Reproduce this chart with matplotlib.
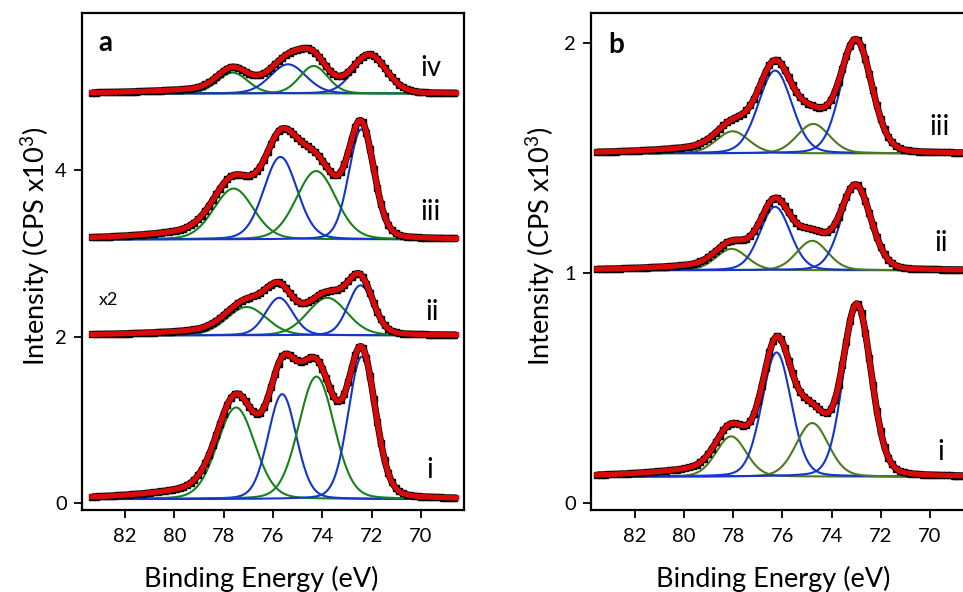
import numpy as np
import matplotlib.pyplot as plt

plt.rcParams['font.family'] = ['Lato', 'DejaVu Sans']
plt.rcParams['mathtext.fontset'] = 'custom'
plt.rcParams['mathtext.rm'] = 'Lato'

# fitted components, high BE -> low BE: green, blue, green, blue
# centre (eV), height above offset, fwhm (eV)
a_i_centre = [77.50, 75.63, 74.24, 72.40]
a_i_height = [1.10, 1.26, 1.47, 1.71]
a_i_fwhm = [1.8, 1.35, 1.7, 1.3]

a_ii_centre = [77.07, 75.75, 73.80, 72.45]
a_ii_height = [0.34, 0.45, 0.45, 0.60]
a_ii_fwhm = [1.9, 1.3, 1.9, 1.2]

a_iii_centre = [77.60, 75.70, 74.25, 72.42]
a_iii_height = [0.61, 0.99, 0.82, 1.32]
a_iii_fwhm = [1.9, 1.6, 1.9, 1.2]

a_iv_centre = [77.64, 75.39, 74.35, 72.08]
a_iv_height = [0.25, 0.35, 0.33, 0.45]
a_iv_fwhm = [1.45, 1.7, 1.35, 1.6]

a_offset = [0.05, 2.015, 3.165, 4.915]
a_loss = [0.12, 0.06, 0.11, 0.06]
a_names = ["i", "ii", "iii", "iv"]

b_i_centre = [78.09, 76.24, 74.79, 72.96]
b_i_height = [0.175, 0.54, 0.233, 0.73]
b_i_fwhm = [1.45, 1.4, 1.55, 1.35]

b_ii_centre = [78.07, 76.30, 74.79, 73.01]
b_ii_height = [0.093, 0.276, 0.128, 0.36]
b_ii_fwhm = [1.5, 1.45, 1.5, 1.45]

b_iii_centre = [78.03, 76.30, 74.75, 73.00]
b_iii_height = [0.096, 0.36, 0.128, 0.48]
b_iii_fwhm = [1.55, 1.6, 1.55, 1.5]

b_offset = [0.115, 1.012, 1.52]
b_loss = [0.04, 0.025, 0.03]
b_names = ["i", "ii", "iii"]

red = "#d80a0a"
blue = "#1434d0"
green_a = "#178219"
green_b = "#4c7a1c"


def pvoigt(x, c, h, w, m=0.15):
    g = np.exp(-4 * np.log(2) * (x - c) ** 2 / w ** 2)
    l = 1 / (1 + 4 * (x - c) ** 2 / w ** 2)
    return h * ((1 - m) * g + m * l)


def draw_spectrum(ax, energy, centres, heights, fwhms, offset, loss, green):
    total = np.zeros_like(energy)
    cols = [green, blue, green, blue]
    for c, h, w, col in zip(centres, heights, fwhms, cols):
        comp = pvoigt(energy, c, h, w)
        total += comp
        ax.plot(energy, offset + comp, color=col, lw=1.5, zorder=2)
    # inelastic loss background on the high binding energy side of the peaks
    t = energy[:, None] - energy[None, :]
    kernel = np.where(t > 0, t * np.exp(-t / 1.5), 0)
    bg = kernel @ total
    fit = offset + total + loss * bg / bg.max()
    ax.plot(energy, fit, color="black", lw=4.8, zorder=3,
            marker="s", ms=4.6, markevery=3, solid_capstyle="butt")
    ax.plot(energy, fit, color=red, lw=3.8, zorder=4)


fig = plt.figure(figsize=(9.63, 5.92), dpi=100)
ax_a = fig.add_axes([0.0852, 0.1385, 0.3967, 0.8395])
ax_b = fig.add_axes([0.6137, 0.1385, 0.3967, 0.8395])

energy_a = np.linspace(83.35, 68.55, 300)
energy_b = np.linspace(83.55, 68.0, 300)

draw_spectrum(ax_a, energy_a, a_i_centre, a_i_height, a_i_fwhm, a_offset[0], a_loss[0], green_a)
draw_spectrum(ax_a, energy_a, a_ii_centre, a_ii_height, a_ii_fwhm, a_offset[1], a_loss[1], green_a)
draw_spectrum(ax_a, energy_a, a_iii_centre, a_iii_height, a_iii_fwhm, a_offset[2], a_loss[2], green_a)
draw_spectrum(ax_a, energy_a, a_iv_centre, a_iv_height, a_iv_fwhm, a_offset[3], a_loss[3], green_a)

draw_spectrum(ax_b, energy_b, b_i_centre, b_i_height, b_i_fwhm, b_offset[0], b_loss[0], green_b)
draw_spectrum(ax_b, energy_b, b_ii_centre, b_ii_height, b_ii_fwhm, b_offset[1], b_loss[1], green_b)
draw_spectrum(ax_b, energy_b, b_iii_centre, b_iii_height, b_iii_fwhm, b_offset[2], b_loss[2], green_b)

ax_a.set_xlim(83.75, 68.25)
ax_a.set_ylim(-0.08, 5.88)
ax_a.set_yticks([0, 2, 4])
ax_b.set_xlim(83.79, 68.25)
ax_b.set_ylim(-0.03, 2.13)
ax_b.set_yticks([0, 1, 2])

for ax in (ax_a, ax_b):
    ax.set_xticks([82, 80, 78, 76, 74, 72, 70])
    ax.tick_params(direction="out", length=6, width=1.3, labelsize=14.5, pad=5)
    ax.tick_params(axis="x", pad=7)
    for s in ax.spines.values():
        s.set_linewidth(1.6)
    ax.set_xlabel("Binding Energy (eV)", fontsize=19.5)
    ax.set_ylabel("Intensity (CPS x10$^{\\mathregular{3}}$)", fontsize=19.5)

ax_a.xaxis.set_label_coords(0.469, -0.112)
ax_b.xaxis.set_label_coords(0.476, -0.112)
ax_a.yaxis.set_label_coords(-0.078, 0.53)
ax_b.yaxis.set_label_coords(-0.089, 0.53)

# panel letters and spectrum labels
ax_a.text(83.09, 5.42, "a", fontsize=20, fontweight="bold")
ax_b.text(83.10, 1.958, "b", fontsize=20, fontweight="bold")
ax_a.text(83.09, 2.38, "x2", fontsize=13)

a_label_x = [69.76, 69.82, 70.02, 70.02]
a_label_y = [0.30, 2.20, 3.40, 5.13]
for name, x, y in zip(a_names, a_label_x, a_label_y):
    ax_a.text(x, y, name, fontsize=20)

b_label_x = [69.70, 69.82, 70.04]
b_label_y = [0.188, 1.095, 1.60]
for name, x, y in zip(b_names, b_label_x, b_label_y):
    ax_b.text(x, y, name, fontsize=20)

fig.savefig("out.png", dpi=100)
